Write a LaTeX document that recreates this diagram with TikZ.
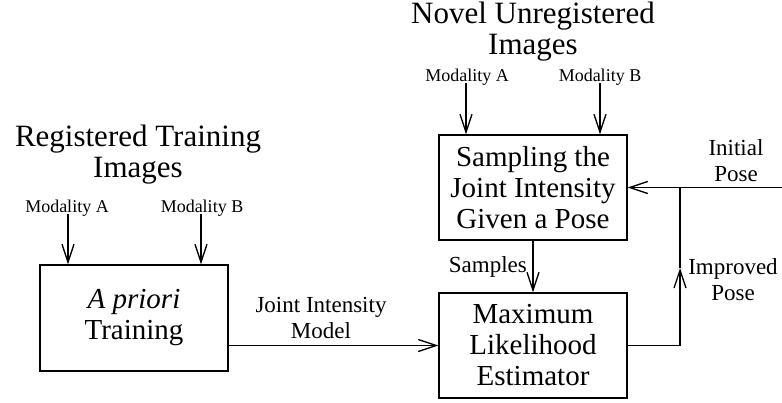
\documentclass[tikz,border=0pt]{standalone}
\usepackage{fontspec}
\setmainfont{Liberation Serif}
\usetikzlibrary{arrows.meta}
\begin{document}
\begin{tikzpicture}[x=1pt,y=-1pt,
  blk/.style={draw,line width=1.4pt,minimum width=188pt,inner sep=0pt,align=center,font=\fontsize{29}{31}\selectfont},
  ttl/.style={align=center,font=\fontsize{31}{31}\selectfont},
  lbl/.style={align=center,font=\fontsize{23}{26}\selectfont},
  mod/.style={font=\fontsize{18}{20}\selectfont},
  arr/.style={line width=1.3pt,-{Straight Barb[length=18pt,width=12pt,line width=1.3pt]}},
  ln/.style={line width=1.3pt}]
\useasboundingbox (0,0) rectangle (782,402);
% boxes
\node[blk,minimum height=106pt] (L) at (134,318) {\textit{A priori}\\Training};
\node[blk,minimum height=105pt] (T) at (533,187.5) {Sampling the\\Joint Intensity\\Given a Pose};
\node[blk,minimum height=105pt] (B) at (533,345.5) {Maximum\\Likelihood\\Estimator};
% titles
\node[ttl] (t1) at (138,155) {Registered Training\\Images};
\node[ttl] (t2) at (533,32) {Novel Unregistered\\Images};
% modality labels
\node[mod] (mLA) at (67,208) {Modality A};
\node[mod] (mLB) at (202,208) {Modality B};
\node[mod] (mTA) at (467,77) {Modality A};
\node[mod] (mTB) at (600,77) {Modality B};
\coordinate (aLA) at (68,214);
\coordinate (aLB) at (201,214);
\coordinate (aTA) at (466,83);
\coordinate (aTB) at (600,83);
\draw[arr] (aLA) -- (aLA |- L.north);
\draw[arr] (aLB) -- (aLB |- L.north);
\draw[arr] (aTA) -- (aTA |- T.north);
\draw[arr] (aTB) -- (aTB |- T.north);
% samples
\draw[arr] (T.south) -- (B.north);
\node[lbl,anchor=east,inner sep=0pt] (smp) at (527,267) {Samples};
% joint intensity model
\draw[arr] (L.east |- B.west) -- (B.west);
\node[lbl] (jim) at (321,318) {Joint Intensity\\Model};
% initial pose
\coordinate (ip) at (782,187.5);
\draw[arr] (ip) -- (T.east);
\node[lbl] (ipl) at (736,161) {Initial\\Pose};
% improved pose feedback
\coordinate (c1) at (680,345.5);
\coordinate (c2) at (680,268);
\coordinate (c3) at (680,187.5);
\draw[ln] (B.east) -- (c1);
\draw[arr] (c1) -- (c2);
\draw[ln] (c2) -- (c3);
\node[lbl] (imp) at (733,280) {Improved\\Pose};
\end{tikzpicture}
\end{document}
